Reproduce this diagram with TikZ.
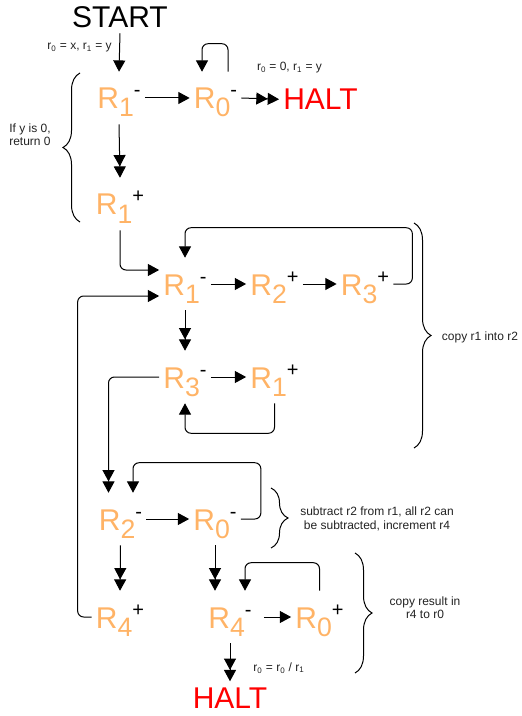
\documentclass[tikz,border=0pt]{standalone}
\usepackage{fontspec}
\setmainfont{Liberation Sans}
\usetikzlibrary{arrows.meta,calc,decorations.pathreplacing}
\definecolor{regc}{HTML}{FFB366}
\definecolor{haltc}{HTML}{FF0000}
\definecolor{txtc}{HTML}{222222}
\newcommand{\rg}[2]{\textcolor{regc}{R\raisebox{-6pt}{\fontsize{20pt}{20pt}\selectfont #1}}\raisebox{9pt}{\fontsize{15pt}{15pt}\selectfont #2}}
\begin{document}
\begin{tikzpicture}[x=0.75pt,y=-0.75pt,
  reg/.style={anchor=base,inner xsep=3pt,inner ysep=0pt,text height=27.75pt,text depth=11.25pt,font=\fontsize{22.5pt}{27pt}\selectfont},
  big/.style={anchor=base,inner xsep=3pt,inner ysep=3.75pt,text height=16.1pt,text depth=0pt,font=\fontsize{22.5pt}{27pt}\selectfont},
  small/.style={font=\fontsize{9pt}{10pt}\selectfont,text=txtc,inner sep=0pt,align=center},
  arr/.style={-{Triangle[length=8.5pt,width=9pt]},line width=0.75pt},
  darr/.style={-{Triangle[length=8.5pt,width=9pt,sep=0pt]Triangle[length=8.5pt,width=9pt]},line width=0.75pt},
  loop/.style={rounded corners=4.5pt},
  brc/.style={decorate,decoration={brace,amplitude=12.75pt},line width=0.75pt}]
\useasboundingbox (0,0) rectangle (521,716);
% nodes
\node[big] (start) at (120,28) {START};
\node[reg] (r1a) at (119,109) {\rg{1}{-}};
\node[reg] (r0a) at (215.5,109) {\rg{0}{-}};
\node[big,text=haltc] (halt1) at (320.5,110) {HALT};
\node[reg] (r1b) at (120,215) {\rg{1}{+}};
\node[reg] (r1c) at (185,295) {\rg{1}{-}};
\node[reg] (r2a) at (274.5,295) {\rg{2}{+}};
\node[reg] (r3a) at (365,295) {\rg{3}{+}};
\node[reg] (r3b) at (185,388) {\rg{3}{-}};
\node[reg] (r1d) at (274.5,388) {\rg{1}{+}};
\node[reg] (r2b) at (120.5,530) {\rg{2}{-}};
\node[reg] (r0b) at (215,530) {\rg{0}{-}};
\node[reg] (r4a) at (120,628) {\rg{4}{+}};
\node[reg] (r4b) at (230,628) {\rg{4}{-}};
\node[reg] (r0c) at (319.5,628) {\rg{0}{+}};
\node[big,text=haltc] (halt2) at (230,708) {HALT};
% labels
\node[small,anchor=east] (l1) at (112,48) {r\textsubscript{0} = x, r\textsubscript{1} = y};
\node[small] (l2) at (289.5,68) {r\textsubscript{0} = 0, r\textsubscript{1} = y};
\node[small] (l3) at (30,135) {If y is 0,\\return 0};
\node[small] (l4) at (480,337) {copy r1 into r2};
\node[small] (l5) at (377,519) {subtract r2 from r1, all r2 can\\be subtracted, increment r4};
\node[small] (l6) at (425,608) {copy result in\\r4 to r0};
\node[small] (l7) at (279,668) {r\textsubscript{0} = r\textsubscript{0} / r\textsubscript{1}};
% braces
\draw[brc] (80,222) -- (80,73);
\draw[brc] (414,223) -- (414,448);
\draw[brc] (271,488) -- (271,548);
\draw[brc] (355,553) -- (355,673);
% connectors
\draw[arr] (start.south) -- (r1a.north);
\draw[arr] (r1a.east) -- (r0a.west);
\draw[arr,loop] ($(r0a.north)+(12.5,0)$) -- ++(0,-28) -| ($(r0a.north)+(-13.5,0)$);
\draw[darr] (r0a.east) -- (halt1.west);
\draw[darr] (r1a.south) -- (r1b.north);
\draw[arr,loop] (r1b.south) |- ($(r1c.west)+(0,-14)$);
\draw[arr,loop] (r4a.west) -- ++(-14,0) |- ($(r1c.west)+(0,12)$);
\draw[arr] (r1c.east) -- (r2a.west);
\draw[arr] (r2a.east) -- (r3a.west);
\draw[arr,loop] (r3a.east) -- ++(19,0) |- ($(r1c.north)+(0,-30)$) -- (r1c.north);
\draw[darr] (r1c.south) -- (r3b.north);
\draw[arr] (r3b.east) -- (r1d.west);
\draw[arr,loop] (r1d.south) -- ++(0,30) -| (r3b.south);
\draw[darr,loop] (r3b.west) -| ($(r2b.north)+(-12,0)$);
\draw[arr] (r2b.east) -- (r0b.west);
\draw[arr,loop] (r0b.east) -- ++(20,0) |- ($(r2b.north)+(12.5,-30)$) -- ($(r2b.north)+(12.5,0)$);
\draw[darr] (r2b.south) -- (r4a.north);
\draw[darr] (r0b.south) -- (r0b.south |- r4b.north);
\draw[arr,shorten <=6pt] (r4b.east) -- (r0c.west);
\draw[arr,loop] (r0c.north) -- ++(0,-28) -| ($(r4b.north)+(15,0)$);
\draw[darr] (r4b.south) -- (halt2.north);
\end{tikzpicture}
\end{document}
